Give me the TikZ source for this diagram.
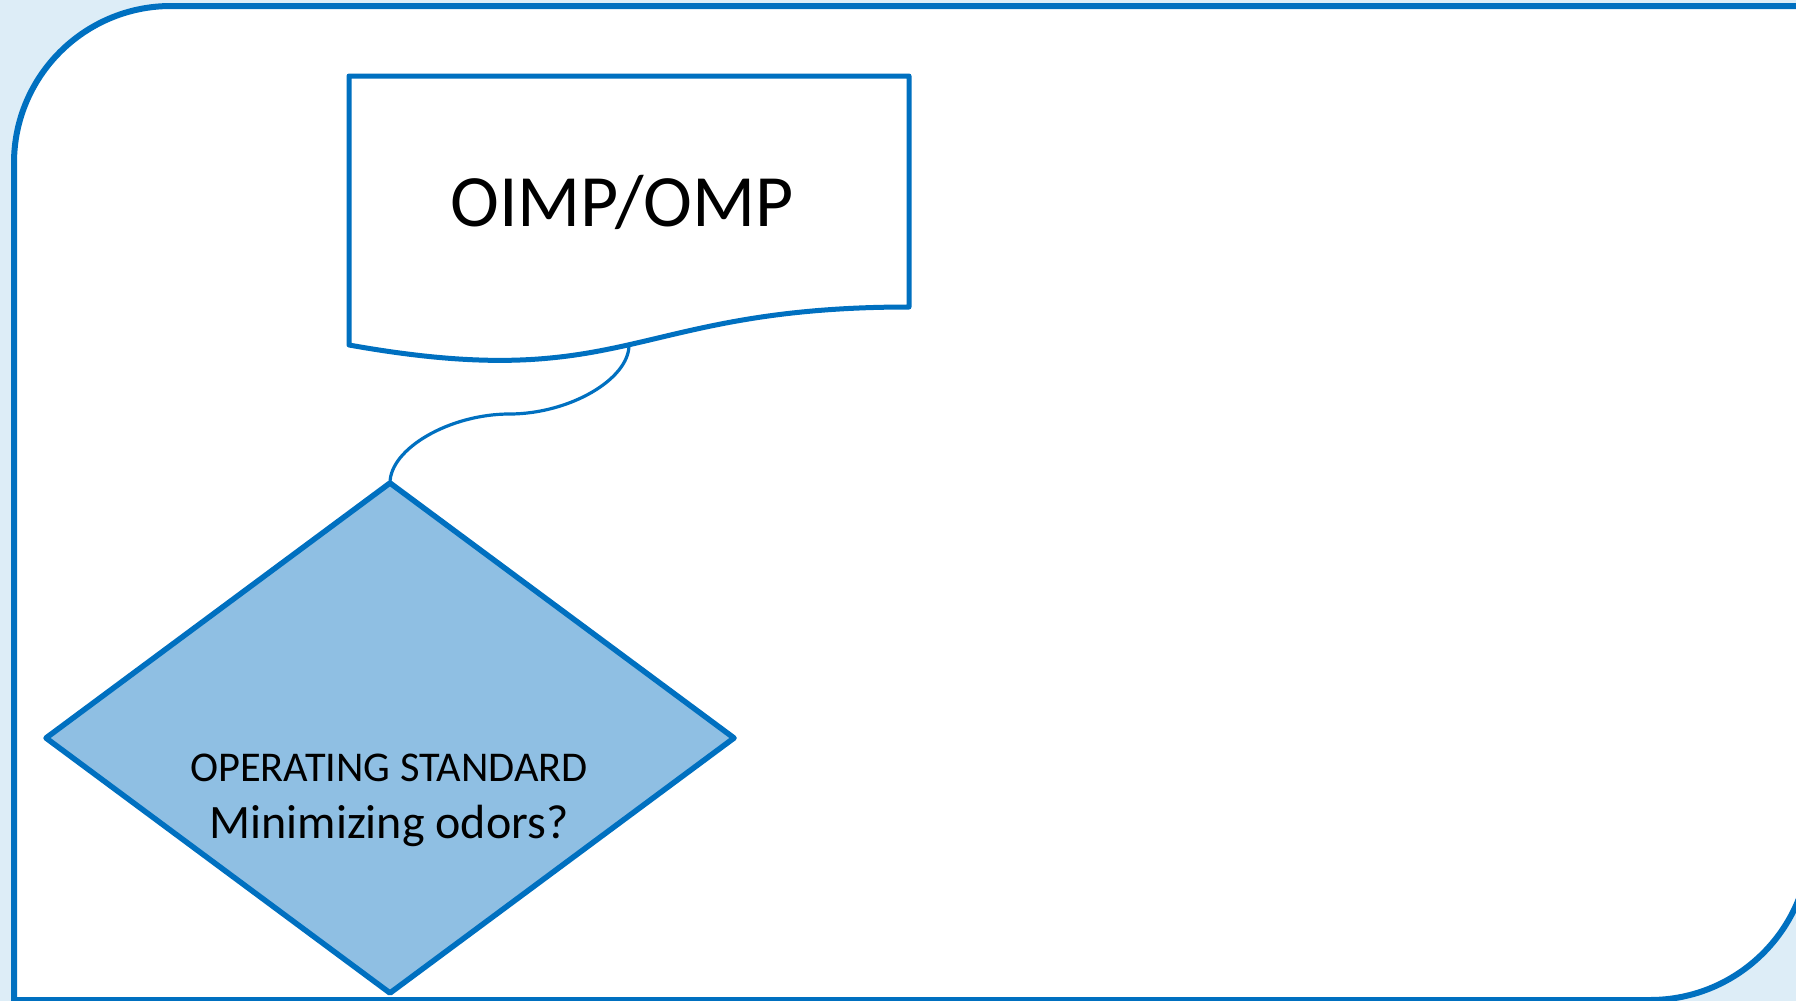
\documentclass[tikz,border=0pt]{standalone}
\usepackage{fontspec}
\setmainfont{Carlito}
\usetikzlibrary{shapes.geometric}
\definecolor{bgblue}{RGB}{221,237,247}
\definecolor{lineblue}{RGB}{0,112,192}
\definecolor{diafill}{RGB}{143,191,227}
\tikzset{
  frame/.style={draw=lineblue,line width=6pt,fill=white},
  docshape/.style={draw=lineblue,line width=5pt,fill=white,line join=round},
  decision/.style={diamond,draw=lineblue,line width=5.5pt,fill=diafill,line join=round,
    minimum width=688pt,minimum height=510pt,inner sep=0pt,outer sep=0pt},
  conn/.style={draw=lineblue,line width=3.2pt},
  lbl/.style={anchor=base,inner sep=0pt,text=black}
}
\begin{document}
\begin{tikzpicture}[x=1pt,y=-1pt]
\useasboundingbox (0,0) rectangle (1796,1001);
\fill[bgblue] (0,0) rectangle (1796,1001);
% outer frame with two rounded diagonal corners
\path[frame] (14,1000) -- (14,163) arc[start angle=180,end angle=270,radius=157]
  -- (1810,6) -- (1810,840) arc[start angle=0,end angle=90,radius=160]
  -- cycle;
% document shape
\path[docshape] (349,76) -- (909,76) -- (909,307)
  .. controls (629,307) and (629,395) .. (349,345) -- cycle;
\node[lbl] (doctext) at (622,226) {\fontsize{73.8}{80}\selectfont OIMP/OMP};
\coordinate (docb) at (629,345);
% decision
\node[decision] (dia) at (390,738) {};
\node[lbl] (t1) at (389,781) {\fontsize{42.4}{46}\selectfont OPERATING STANDARD};
\node[lbl] (t2) at (389,838) {\fontsize{48}{52}\selectfont Minimizing odors?};
% connector
\draw[conn] (docb) .. controls (629,379.5) and (569,414) .. (509.5,414)
  .. controls (450,414) and ([yshift=34.5pt]dia.north) .. (dia.north);
\end{tikzpicture}
\end{document}
